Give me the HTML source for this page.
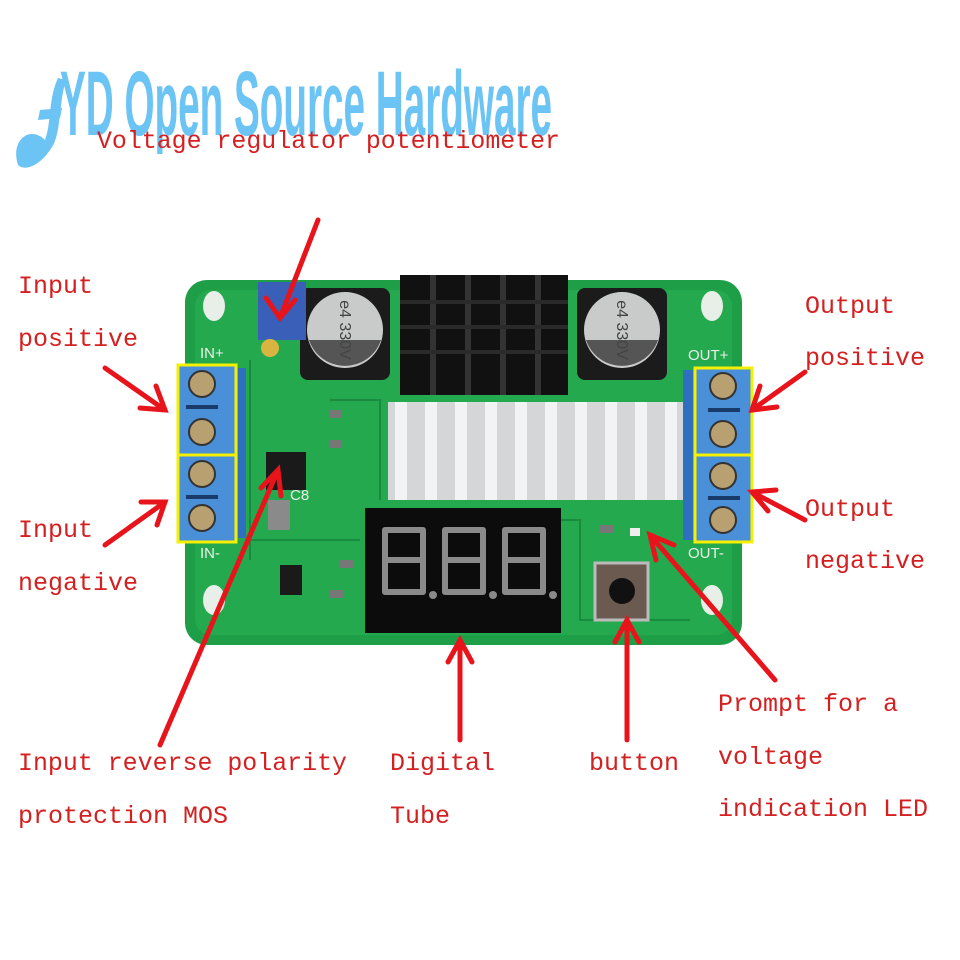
<!DOCTYPE html>
<html><head><meta charset="utf-8"><style>html,body{margin:0;padding:0;background:#fff}svg{display:block}</style></head>
<body>
<svg width="960" height="960" viewBox="0 0 960 960" xmlns="http://www.w3.org/2000/svg">
<rect width="960" height="960" fill="#fff"/>
<!-- logo swoosh -->
<path d="M18 165 C10 140 30 125 45 140 C52 120 48 100 58 78 L66 80 C58 105 62 135 50 150 C40 165 25 172 18 165 Z" fill="#6cc4f4"/>
<path d="M40 110 L62 108 L60 118 L38 120 Z" fill="#6cc4f4"/>
<text x="60" y="135" font-family="Liberation Sans, sans-serif" font-weight="bold" font-size="92" fill="#6cc4f4" textLength="492" lengthAdjust="spacingAndGlyphs">YD Open Source Hardware</text>

<!-- board -->
<rect x="185" y="280" width="557" height="365" rx="22" fill="#1f9e48"/>
<rect x="195" y="290" width="537" height="345" rx="16" fill="#25a94f"/>
<g fill="none" stroke="#1a8a3e" stroke-width="2">
<path d="M250 360 L250 560 M330 400 L380 400 L380 500 M560 520 L580 520 L580 620 L690 620 M250 540 L360 540"/>
</g>
<!-- mounting holes -->
<g fill="#e8eee8"><ellipse cx="214" cy="306" rx="11" ry="15"/><ellipse cx="712" cy="306" rx="11" ry="15"/><ellipse cx="214" cy="600" rx="11" ry="15"/><ellipse cx="712" cy="600" rx="11" ry="15"/></g>
<!-- capacitors -->
<rect x="300" y="288" width="90" height="92" rx="8" fill="#1b1b1b"/>
<circle cx="345" cy="330" r="38" fill="#c9cbca"/>
<path d="M309 340 A38 38 0 0 0 381 340 Z" fill="#555"/>
<text x="345" y="335" font-family="Liberation Sans, sans-serif" font-size="16" fill="#444" text-anchor="middle" transform="rotate(90 345 330)">e4 330V</text>
<rect x="577" y="288" width="90" height="92" rx="8" fill="#1b1b1b"/>
<circle cx="622" cy="330" r="38" fill="#c9cbca"/>
<path d="M586 340 A38 38 0 0 0 658 340 Z" fill="#555"/>
<text x="622" y="335" font-family="Liberation Sans, sans-serif" font-size="16" fill="#444" text-anchor="middle" transform="rotate(90 622 330)">e4 330V</text>
<!-- black heatsink -->
<rect x="400" y="275" width="168" height="120" fill="#111"/>
<g fill="#333"><rect x="430" y="275" width="6" height="120"/><rect x="465" y="275" width="6" height="120"/><rect x="500" y="275" width="6" height="120"/><rect x="535" y="275" width="6" height="120"/></g>
<g fill="#2a2a2a"><rect x="400" y="300" width="168" height="4"/><rect x="400" y="325" width="168" height="4"/><rect x="400" y="350" width="168" height="4"/></g>
<!-- silver heatsink -->
<rect x="388" y="402" width="302" height="98" fill="#d4d6d8"/>
<g fill="#f2f3f4"><rect x="395" y="402" width="12" height="98"/><rect x="425" y="402" width="12" height="98"/><rect x="455" y="402" width="12" height="98"/><rect x="485" y="402" width="12" height="98"/><rect x="515" y="402" width="12" height="98"/><rect x="545" y="402" width="12" height="98"/><rect x="575" y="402" width="12" height="98"/><rect x="605" y="402" width="12" height="98"/><rect x="635" y="402" width="12" height="98"/><rect x="665" y="402" width="12" height="98"/></g>
<!-- pot -->
<rect x="258" y="282" width="48" height="58" fill="#3a5fb8"/>
<circle cx="270" cy="348" r="9" fill="#d8b440"/>
<!-- IC -->
<rect x="266" y="452" width="40" height="38" fill="#1a1a1a"/>
<rect x="268" y="500" width="22" height="30" fill="#8a8a8a"/>
<rect x="280" y="565" width="22" height="30" fill="#1a1a1a"/>
<g fill="#777"><rect x="330" y="410" width="12" height="8"/><rect x="330" y="440" width="12" height="8"/><rect x="340" y="560" width="14" height="8"/><rect x="330" y="590" width="14" height="8"/><rect x="600" y="525" width="14" height="8"/></g>
<text x="200" y="358" font-family="Liberation Sans, sans-serif" font-size="15" fill="#e8f0e8">IN+</text>
<text x="200" y="558" font-family="Liberation Sans, sans-serif" font-size="15" fill="#e8f0e8">IN-</text>
<text x="688" y="360" font-family="Liberation Sans, sans-serif" font-size="15" fill="#e8f0e8">OUT+</text>
<text x="688" y="558" font-family="Liberation Sans, sans-serif" font-size="15" fill="#e8f0e8">OUT-</text>
<text x="290" y="500" font-family="Liberation Sans, sans-serif" font-size="15" fill="#e8f0e8">C8</text>
<!-- terminals -->
<rect x="238" y="368" width="8" height="170" fill="#2f6fc0"/>
<rect x="683" y="370" width="10" height="170" fill="#2f6fc0"/>
<g fill="#4a90d8" stroke="#f4f000" stroke-width="3">
<rect x="178" y="365" width="58" height="90"/><rect x="178" y="455" width="58" height="87"/>
<rect x="695" y="368" width="57" height="87"/><rect x="695" y="455" width="57" height="87"/>
</g>
<g fill="#b8a070" stroke="#333" stroke-width="2">
<circle cx="202" cy="384" r="13"/><circle cx="202" cy="432" r="13"/><circle cx="202" cy="474" r="13"/><circle cx="202" cy="518" r="13"/>
<circle cx="723" cy="386" r="13"/><circle cx="723" cy="434" r="13"/><circle cx="723" cy="476" r="13"/><circle cx="723" cy="520" r="13"/>
</g>
<g fill="#1a3a6a"><rect x="186" y="405" width="32" height="4"/><rect x="186" y="495" width="32" height="4"/><rect x="708" y="408" width="32" height="4"/><rect x="708" y="496" width="32" height="4"/></g>
<!-- display -->
<rect x="365" y="508" width="196" height="125" fill="#0c0c0c"/>
<g fill="none" stroke="#8a8a8a" stroke-width="6" stroke-linejoin="round">
<path d="M385 530 h38 v30 h-38 z M385 560 v32 h38 v-32"/>
<path d="M445 530 h38 v30 h-38 z M445 560 v32 h38 v-32"/>
<path d="M505 530 h38 v30 h-38 z M505 560 v32 h38 v-32"/>
</g>
<g fill="#8a8a8a"><circle cx="433" cy="595" r="4"/><circle cx="493" cy="595" r="4"/><circle cx="553" cy="595" r="4"/></g>
<!-- button -->
<rect x="595" y="563" width="53" height="57" fill="#6b5a50" stroke="#bbb" stroke-width="3"/>
<circle cx="622" cy="591" r="13" fill="#111"/>
<rect x="630" y="528" width="10" height="8" fill="#eee"/>

<!-- labels -->
<g font-family="Liberation Mono, monospace" font-size="25" fill="#d42020">
<text x="97" y="148" textLength="463" lengthAdjust="spacingAndGlyphs">Voltage regulator potentiometer</text>
<text x="18" y="293">Input</text>
<text x="18" y="346">positive</text>
<text x="18" y="537">Input</text>
<text x="18" y="590">negative</text>
<text x="805" y="313">Output</text>
<text x="805" y="365">positive</text>
<text x="805" y="516">Output</text>
<text x="805" y="568">negative</text>
<text x="18" y="770" textLength="329" lengthAdjust="spacingAndGlyphs">Input reverse polarity</text>
<text x="18" y="823">protection MOS</text>
<text x="390" y="770">Digital</text>
<text x="390" y="823">Tube</text>
<text x="589" y="770">button</text>
<text x="718" y="711">Prompt for a</text>
<text x="718" y="764">voltage</text>
<text x="718" y="816">indication LED</text>
</g>

<!-- arrows -->
<g stroke="#e8141c" stroke-width="5" fill="none" stroke-linecap="round">
<path d="M318 220 L280 318 M266 298 L280 318 L295 300"/>
<path d="M105 368 L165 410 M140 408 L165 410 L156 386"/>
<path d="M105 545 L165 502 M141 502 L165 502 L157 525"/>
<path d="M805 372 L752 410 M760 386 L752 410 L777 407"/>
<path d="M805 520 L752 492 M776 490 L752 492 L768 511"/>
<path d="M160 745 L278 470 M261 488 L278 470 L281 496"/>
<path d="M460 740 L460 640 M448 662 L460 640 L472 662"/>
<path d="M627 740 L627 620 M615 642 L627 620 L639 642"/>
<path d="M775 680 L650 535 M656 560 L650 535 L674 545"/>
</g>
</svg>
</body></html>
